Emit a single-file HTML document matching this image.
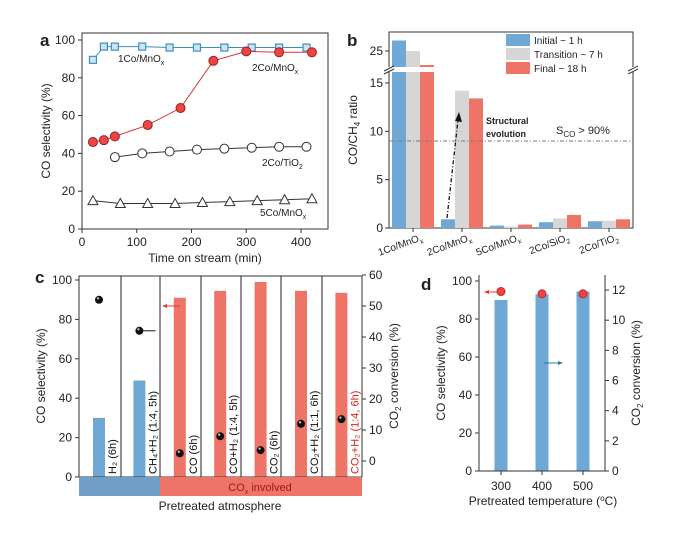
<!DOCTYPE html>
<html><head><meta charset="utf-8"><style>
body{margin:0;background:#fff;}
svg{display:block;font-family:"Liberation Sans",Arial,sans-serif;}
</style></head><body>
<svg id="fig" width="687" height="535" viewBox="0 0 687 535"></svg>
<script>
// Panel a data
const aTime1=[20,40,60,110,160,210,260,310,360,410];
const aSel1=[89.5,96.5,96.5,96.5,96,96,96,96,96,96];
const aTime2=[20,40,60,120,180,240,300,360,420];
const aSel2=[46,47,49,55,64,89,94,93.5,93.5];
const aTime3=[60,110,160,210,260,310,360,410];
const aSel3=[38,40,41,42,42.5,43,43.5,43.5];
const aTime4=[20,70,120,170,220,270,320,370,420];
const aSel4=[15,13.5,13.5,13.5,14,14.5,15,15.5,16];
const aXTicks=[0,100,200,300,400];
const aYTicks=[0,20,40,60,80,100];
// Panel b data
const bCats=["1Co/MnOx","2Co/MnOx","5Co/MnOx","2Co/SiO2","2Co/TiO2"];
const bInitial=[26.5,0.9,0.25,0.6,0.7];
const bTransition=[25,14.2,0.15,1.0,0.75];
const bFinal=[23,13.4,0.35,1.35,0.9];
const bLowTicks=[0,5,10,15];
const bHighTicks=[25];
// Panel c data
const cLabels=["H₂ (6h)","CH₄+H₂ (1:4, 5h)","CO (6h)","CO+H₂ (1:4, 5h)","CO₂ (6h)","CO₂+H₂ (1:1, 6h)","CO₂+H₂ (1:4, 6h)"];
const cSel=[30,49,91,94.5,99,94.5,93.5];
const cConv=[52,42,2.5,8,3.5,12,13.5];
const cLTicks=[0,20,40,60,80,100];
const cRTicks=[0,10,20,30,40,50,60];
// Panel d data
const dTemps=[300,400,500];
const dSel=[90,93,94.5];
const dConv=[11.9,11.75,11.75];
const dLTicks=[0,20,40,60,80,100];
const dRTicks=[0,2,4,6,8,10,12];

const S="http://www.w3.org/2000/svg";
const fig=document.getElementById('fig');
function mk(tag,attrs,parent){const e=document.createElementNS(S,tag);for(const k in attrs)e.setAttribute(k,attrs[k]);(parent||fig).appendChild(e);return e;}
function txt(x,y,s,size,anchor,parent,extra){const t=mk('text',Object.assign({x:x,y:y,'font-size':size,'text-anchor':anchor||'middle',fill:'#222'},extra||{}),parent);t.textContent=s;return t;}

// ===== Panel a =====
const ax=v=>82+v*0.5475, ay=v=>229-v*1.89;
let g=mk('g',{});


let fr=mk('rect',{x:82,y:33,width:246,height:196,fill:'none',stroke:'#333','stroke-width':1},g);


aXTicks.forEach(v=>{mk('line',{x1:ax(v),x2:ax(v),y1:229,y2:233,stroke:'#333'},g);let t=txt(ax(v),246,String(v),12,'middle',g);

});
aYTicks.forEach(v=>{mk('line',{x1:78,x2:82,y1:ay(v),y2:ay(v),stroke:'#333'},g);let t=txt(75,ay(v)+4,String(v),12,'end',g);

});
let t=txt(205,262,'Time on stream (min)',12,'middle',g);


t=txt(0,0,'CO selectivity (%)',12,'middle',g,{transform:'translate(50,131) rotate(-90)'});


t=txt(40,46,'a',17,'start',g,{'font-weight':'bold'});


function series(xs,ys,color,marker,fill,name){
  const pts=xs.map((x,i)=>ax(x)+','+ay(ys[i])).join(' ');
  let l=mk('polyline',{points:pts,fill:'none',stroke:color,'stroke-width':1},g);
  
  
  xs.forEach((x,i)=>{const cx=ax(x),cy=ay(ys[i]);let m;
    if(marker==='sq')m=mk('rect',{x:cx-3.5,y:cy-3.5,width:7,height:7,fill:fill,stroke:color,'stroke-width':1.2},g);
    else if(marker==='c')m=mk('circle',{cx:cx,cy:cy,r:4.5,fill:fill,stroke:color=='#d33'?'#922':color,'stroke-width':1},g);
    else m=mk('polygon',{points:(cx-5)+','+(cy+4)+' '+(cx+5)+','+(cy+4)+' '+cx+','+(cy-5),fill:fill,stroke:color,'stroke-width':1},g);
    
    });
}
series(aTime1,aSel1,'#3a8fc0','sq','#cfe3f0','series-1co-mnox');
series(aTime2,aSel2,'#d33','c','#e44','series-2co-mnox');
series(aTime3,aSel3,'#333','c','#fff','series-2co-tio2');
series(aTime4,aSel4,'#333','t','#fff','series-5co-mnox');
[[118,62,'1Co/MnO','x'],[252,71,'2Co/MnO','x'],[262,166,'2Co/TiO','2'],[260,216,'5Co/MnO','x']].forEach(a=>{
 let e=mk('text',{x:a[0],y:a[1],'font-size':10,fill:'#222'},g);e.innerHTML=a[2]+'<tspan dy="3" font-size="7">'+a[3]+'</tspan>';
 
 });

// ===== Panel b =====
const by=v=>228-v*9.67, byH=v=>51-(v-25)*7;
const bx=i=>413+i*49;
g=mk('g',{});


fr=mk('rect',{x:389,y:32,width:244,height:196,fill:'none',stroke:'#333'},g);


const bSeries=[[bInitial,'#6fa8d4',-14,'initial'],[bTransition,'#d6d6d6',0,'transition'],[bFinal,'#ef7468',14,'final']];
bSeries.forEach(s=>{s[0].forEach((v,i)=>{
  const x=bx(i)+s[2]-7;let r;
  if(v>22){r=mk('rect',{x:x,y:byH(v),width:14,height:228-byH(v),fill:s[1]},g);}
  else r=mk('rect',{x:x,y:by(v),width:14,height:228-by(v),fill:s[1]},g);
  
  });});
mk('rect',{x:386,y:67,width:250,height:5,fill:'#fff'},g);
mk('line',{x1:384,x2:394,y1:71,y2:66,stroke:'#333'},g);mk('line',{x1:384,x2:394,y1:74,y2:69,stroke:'#333'},g);
mk('line',{x1:628,x2:638,y1:71,y2:66,stroke:'#333'},g);mk('line',{x1:628,x2:638,y1:74,y2:69,stroke:'#333'},g);
bLowTicks.forEach(v=>{mk('line',{x1:385,x2:389,y1:by(v),y2:by(v),stroke:'#333'},g);let k=txt(383,by(v)+4,String(v),12,'end',g);

});
bHighTicks.forEach(v=>{mk('line',{x1:385,x2:389,y1:byH(v),y2:byH(v),stroke:'#333'},g);let k=txt(383,byH(v)+4,String(v),12,'end',g);

});
bCats.forEach((c,i)=>{mk('line',{x1:bx(i),x2:bx(i),y1:228,y2:232,stroke:'#333'},g);
 let e=mk('text',{x:0,y:0,'font-size':10,fill:'#222','text-anchor':'end',transform:'translate('+(bx(i)+10)+',240) rotate(-20)'},g);
 e.innerHTML=c.slice(0,-1)+'<tspan dy="3" font-size="7">'+c.slice(-1)+'</tspan>';
 
 });
let dl=mk('line',{x1:389,x2:633,y1:by(9),y2:by(9),stroke:'#777','stroke-dasharray':'4,2,1,2'},g);


let ar=mk('line',{x1:447,x2:458,y1:218,y2:120,stroke:'#111','stroke-width':1.3,'stroke-dasharray':'4,2,1,2'},g);


mk('polygon',{points:'459,112 455,121 462,122',fill:'#111'},g);
t=txt(486,124,'Structural',9,'start',g,{'font-weight':'bold'});


txt(486,137,'evolution',9,'start',g,{'font-weight':'bold'});
t=mk('text',{x:556,y:134,'font-size':11,fill:'#222'},g);t.innerHTML='S<tspan dy="3" font-size="8">CO</tspan><tspan dy="-3"> &gt; 90%</tspan>';


[['#6fa8d4','Initial ~ 1 h',40],['#d6d6d6','Transition ~ 7 h',54],['#ef7468','Final ~ 18 h',68]].forEach(l=>{
 let r=mk('rect',{x:506,y:l[2]-6,width:24,height:12,fill:l[0]},g);
 
 
 let k=txt(534,l[2]+4,l[1],10,'start',g);
 
 });
t=txt(347,46,'b',17,'start',g,{'font-weight':'bold'});


t=mk('text',{x:0,y:0,'font-size':12,fill:'#222','text-anchor':'middle',transform:'translate(357,130) rotate(-90)'},g);
t.innerHTML='CO/CH<tspan dy="3" font-size="8">4</tspan><tspan dy="-3"> ratio</tspan>';



// ===== Panel c =====
const cy=v=>477-v*1.97, cyR=v=>461-v*3.1, cx=i=>99+i*40.4;
g=mk('g',{});


cSel.forEach((v,i)=>{let r=mk('rect',{x:cx(i)-6,y:cy(v),width:12,height:477-cy(v),fill:i<2?'#6fa8d4':'#ef7468'},g);
 
 });
[121,160,201,241,281,322].forEach(x=>mk('line',{x1:x,x2:x,y1:276,y2:477,stroke:'#222'},g));
fr=mk('rect',{x:79,y:276,width:283,height:201,fill:'none',stroke:'#333'},g);


cConv.forEach((v,i)=>{let d=mk('circle',{cx:cx(i),cy:cyR(v),r:4,fill:'#111'},g);
 
 
 mk('circle',{cx:cx(i)-1,cy:cyR(v)-1.5,r:1.2,fill:'#bbb'},g);});
mk('line',{x1:cx(1)+4,x2:cx(1)+16,y1:cyR(cConv[1]),y2:cyR(cConv[1]),stroke:'#111'},g);
mk('line',{x1:164,x2:180,y1:306,y2:306,stroke:'#e33'},g);mk('polygon',{points:'162,306 167,304 167,308',fill:'#e33'},g);
cLabels.forEach((s,i)=>{let k=txt(0,0,s,11,'start',g,{transform:'translate('+(cx(i)+17)+',474) rotate(-90)',fill:i==6?'#d22':'#111'});
 
 });
cLTicks.forEach(v=>{mk('line',{x1:75,x2:79,y1:cy(v),y2:cy(v),stroke:'#333'},g);let k=txt(72,cy(v)+4,String(v),12,'end',g);
 
 });
cRTicks.forEach(v=>{mk('line',{x1:362,x2:366,y1:cyR(v),y2:cyR(v),stroke:'#333'},g);let k=txt(369,cyR(v)+4,String(v),12,'start',g);
 
 });
let bb=mk('rect',{x:79,y:477,width:81,height:19,fill:'#6f9fc8'},g);


bb=mk('rect',{x:160,y:477,width:202,height:19,fill:'#ef7468'},g);


t=mk('text',{x:260,y:491,'font-size':11,fill:'#a01818','text-anchor':'middle'},g);t.innerHTML='CO<tspan dy="3" font-size="7">x</tspan><tspan dy="-3">  involved</tspan>';


t=txt(220,510,'Pretreated atmosphere',12,'middle',g);


t=txt(0,0,'CO selectivity (%)',12,'middle',g,{transform:'translate(45,376) rotate(-90)'});


t=mk('text',{x:0,y:0,'font-size':12,fill:'#222','text-anchor':'middle',transform:'translate(398,376) rotate(-90)'},g);
t.innerHTML='CO<tspan dy="3" font-size="8">2</tspan><tspan dy="-3"> conversion (%)</tspan>';


t=txt(35,283,'c',17,'start',g,{'font-weight':'bold'});



// ===== Panel d =====
const dy=v=>471-v*1.9, dyR=v=>471-v*15.08, dx=v=>501+(v-300)*0.41;
g=mk('g',{});


dSel.forEach((v,i)=>{let r=mk('rect',{x:dx(dTemps[i])-6.5,y:dy(v),width:13,height:471-dy(v),fill:'#6fa8d4'},g);
 
 });
dConv.forEach((v,i)=>{let d=mk('circle',{cx:dx(dTemps[i]),cy:dyR(v),r:4,fill:'#e44',stroke:'#c22'},g);
 
 });
mk('line',{x1:486,x2:497,y1:292,y2:292,stroke:'#e33'},g);mk('polygon',{points:'484,292 489,290 489,294',fill:'#e33'},g);
mk('line',{x1:544,x2:561,y1:363,y2:363,stroke:'#2a7a9a'},g);mk('polygon',{points:'563,363 558,361 558,365',fill:'#2a7a9a'},g);
mk('path',{d:'M479,275 V471 H605 V275',fill:'none',stroke:'#333'},g);
dTemps.forEach(v=>{mk('line',{x1:dx(v),x2:dx(v),y1:471,y2:475,stroke:'#333'},g);let k=txt(dx(v),490,String(v),12,'middle',g);
 
 });
dLTicks.forEach(v=>{mk('line',{x1:475,x2:479,y1:dy(v),y2:dy(v),stroke:'#333'},g);let k=txt(472,dy(v)+4,String(v),12,'end',g);
 
 });
dRTicks.forEach(v=>{mk('line',{x1:605,x2:609,y1:dyR(v),y2:dyR(v),stroke:'#333'},g);let k=txt(612,dyR(v)+4,String(v),12,'start',g);
 
 });
t=mk('text',{x:543,y:505,'font-size':12,fill:'#222','text-anchor':'middle'},g);t.innerHTML='Pretreated temperature (<tspan dy="-4" font-size="8">o</tspan><tspan dy="4">C)</tspan>';


t=txt(0,0,'CO selectivity (%)',12,'middle',g,{transform:'translate(445,373) rotate(-90)'});


t=mk('text',{x:0,y:0,'font-size':12,fill:'#222','text-anchor':'middle',transform:'translate(640,373) rotate(-90)'},g);
t.innerHTML='CO<tspan dy="3" font-size="8">2</tspan><tspan dy="-3"> conversion (%)</tspan>';


t=txt(421,290,'d',17,'start',g,{'font-weight':'bold'});


</script>
</body></html>
